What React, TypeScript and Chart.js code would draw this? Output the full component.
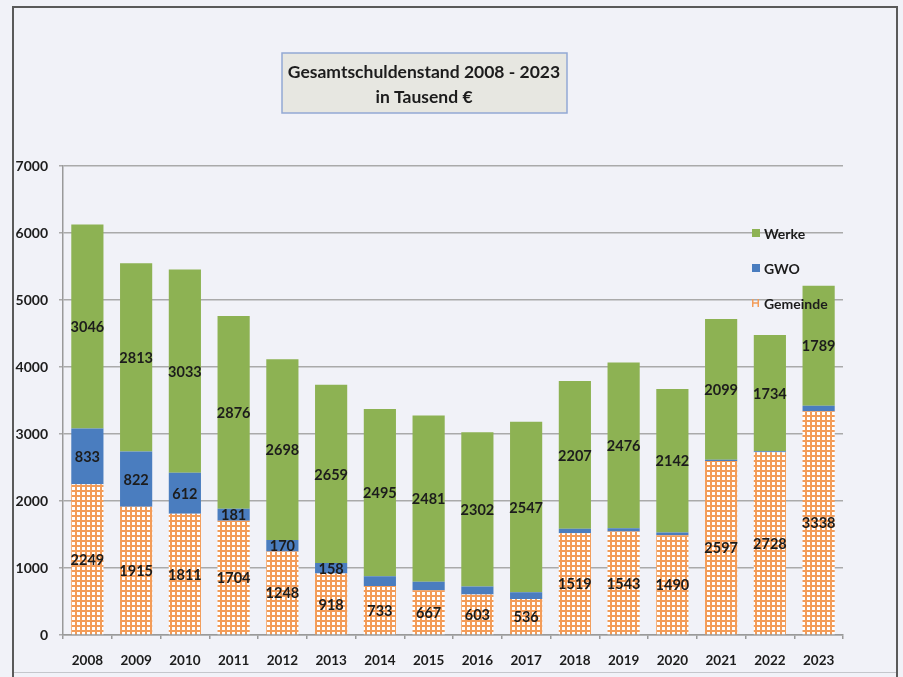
import React, { useEffect, useRef } from 'react';
import { Chart, registerables } from 'chart.js';

Chart.register(...registerables);

const years = ['2008', '2009', '2010', '2011', '2012', '2013', '2014', '2015', '2016', '2017', '2018', '2019', '2020', '2021', '2022', '2023'];
const gemeinde = [2249, 1915, 1811, 1704, 1248, 918, 733, 667, 603, 536, 1519, 1543, 1490, 2597, 2728, 3338];
const gwo = [833, 822, 612, 181, 170, 158, 145, 128, 120, 101, 65, 50, 40, 20, 15, 85];
const werke = [3046, 2813, 3033, 2876, 2698, 2659, 2495, 2481, 2302, 2547, 2207, 2476, 2142, 2099, 1734, 1789];
const seriesNames = ['Gemeinde', 'GWO', 'Werke'];
const titleLines = ['Gesamtschuldenstand 2008 - 2023', 'in Tausend €'];
const yMin = 0;
const yMax = 7000;
const yStep = 1000;
const gwoLabelMin = 150;

const BG = '#f1f2f8';
const GREEN = '#8db253';
const BLUE = '#4a7dbf';
const ORANGE = '#f39c58';
const TEXT = '#1c1c1c';
const FONT = 'Lato, "DejaVu Sans", sans-serif';

function makePattern(): CanvasPattern | string {
  const c = document.createElement('canvas');
  c.width = 5;
  c.height = 5;
  const g = c.getContext('2d');
  if (!g) return ORANGE;
  g.fillStyle = ORANGE;
  g.fillRect(0, 0, 5, 5);
  g.fillStyle = '#ffffff';
  g.fillRect(2, 2, 3, 3);
  const p = g.createPattern(c, 'repeat');
  return p || ORANGE;
}

const backgroundPlugin = {
  id: 'bgFrame',
  beforeDraw(chart: any) {
    const ctx = chart.ctx as CanvasRenderingContext2D;
    ctx.save();
    ctx.fillStyle = BG;
    ctx.fillRect(0, 0, chart.width, chart.height);
    // outer frame
    ctx.strokeStyle = '#5a5a5a';
    ctx.lineWidth = 2;
    ctx.strokeRect(13, 7, 884, 700);
    // bottom light line
    ctx.strokeStyle = '#c4c6cc';
    ctx.lineWidth = 1;
    ctx.beginPath();
    ctx.moveTo(14, 672.5);
    ctx.lineTo(896, 672.5);
    ctx.stroke();
    // title box
    ctx.fillStyle = '#e7e7e1';
    ctx.fillRect(282, 53, 285, 60);
    ctx.strokeStyle = '#93a9d4';
    ctx.lineWidth = 1.5;
    ctx.strokeRect(282, 53, 285, 60);
    ctx.fillStyle = TEXT;
    ctx.font = `bold 17.5px ${FONT}`;
    ctx.textAlign = 'center';
    ctx.textBaseline = 'middle';
    ctx.fillText(titleLines[0], 424, 72);
    ctx.fillText(titleLines[1], 424, 97);
    ctx.restore();
  },
};

const labelsPlugin = {
  id: 'valueLabels',
  afterDatasetsDraw(chart: any) {
    const ctx = chart.ctx as CanvasRenderingContext2D;
    ctx.save();
    ctx.fillStyle = TEXT;
    ctx.font = `bold 14.5px ${FONT}`;
    ctx.textAlign = 'center';
    ctx.textBaseline = 'middle';
    chart.data.datasets.forEach((ds: any, di: number) => {
      const meta = chart.getDatasetMeta(di);
      meta.data.forEach((bar: any, i: number) => {
        const v = ds.data[i];
        if (di === 1 && v < gwoLabelMin) return;
        const { x, y, base } = bar.getProps(['x', 'y', 'base'], true);
        ctx.fillText(String(v), x, (y + base) / 2 + 1);
      });
    });
    // legend
    const lx = 752;
    const ly0 = 233;
    const gap = 35;
    const order = [2, 1, 0];
    ctx.textAlign = 'left';
    ctx.font = `bold 14px ${FONT}`;
    order.forEach((di, k) => {
      const yy = ly0 + k * gap;
      if (di === 2) {
        ctx.fillStyle = GREEN;
        ctx.fillRect(lx, yy - 4, 8, 8);
      } else if (di === 1) {
        ctx.fillStyle = BLUE;
        ctx.fillRect(lx, yy - 4, 8, 8);
      } else {
        ctx.strokeStyle = ORANGE;
        ctx.lineWidth = 1.5;
        ctx.beginPath();
        ctx.moveTo(lx + 0.75, yy - 4);
        ctx.lineTo(lx + 0.75, yy + 4);
        ctx.moveTo(lx + 6.25, yy - 4);
        ctx.lineTo(lx + 6.25, yy + 4);
        ctx.moveTo(lx, yy);
        ctx.lineTo(lx + 7, yy);
        ctx.stroke();
      }
      ctx.fillStyle = TEXT;
      ctx.fillText(seriesNames[di], lx + 12, yy + 1);
    });
    ctx.restore();
  },
};

export default function App() {
  const ref = useRef<HTMLCanvasElement | null>(null);
  useEffect(() => {
    if (!ref.current) return;
    const pattern = makePattern();
    const chart = new Chart(ref.current, {
      type: 'bar',
      data: {
        labels: years,
        datasets: [
          { label: seriesNames[0], data: gemeinde, backgroundColor: pattern as any },
          { label: seriesNames[1], data: gwo, backgroundColor: BLUE },
          { label: seriesNames[2], data: werke, backgroundColor: GREEN },
        ],
      },
      options: {
        responsive: false,
        animation: false,
        devicePixelRatio: 1,
        layout: { padding: { left: 0, top: 166, right: 60, bottom: 0 } },
        datasets: { bar: { barPercentage: 0.66, categoryPercentage: 1 } },
        plugins: { legend: { display: false }, title: { display: false }, tooltip: { enabled: false } },
        scales: {
          x: {
            stacked: true,
            grid: { display: true, drawOnChartArea: false, drawTicks: true, tickLength: 4, color: '#9a9a9a', offset: true, lineWidth: 1.5 },
            border: { display: true, color: '#9a9a9a', width: 1.5 },
            ticks: { color: TEXT, font: { family: FONT, size: 13.5, weight: 'bold' }, padding: 14, maxRotation: 0, autoSkip: false },
            afterFit: (s: any) => { s.height = 42; },
          },
          y: {
            stacked: true,
            min: yMin,
            max: yMax,
            ticks: {
              stepSize: yStep,
              color: TEXT,
              font: { family: FONT, size: 14, weight: 'bold' },
              padding: 11,
              callback: (v: any) => String(v),
            },
            grid: { color: '#aaaaaa', lineWidth: 1.5, tickLength: 4 },
            border: { display: true, color: '#9a9a9a', width: 1.5 },
            afterFit: (s: any) => { s.width = 63; },
          },
        },
      } as any,
      plugins: [backgroundPlugin, labelsPlugin],
    });
    return () => chart.destroy();
  }, []);
  return (
    <div style={{ position: 'absolute', left: 0, top: 0, width: 903, height: 677, background: BG }}>
      <canvas ref={ref} width={903} height={677} style={{ display: 'block', width: 903, height: 677 }} />
    </div>
  );
}
